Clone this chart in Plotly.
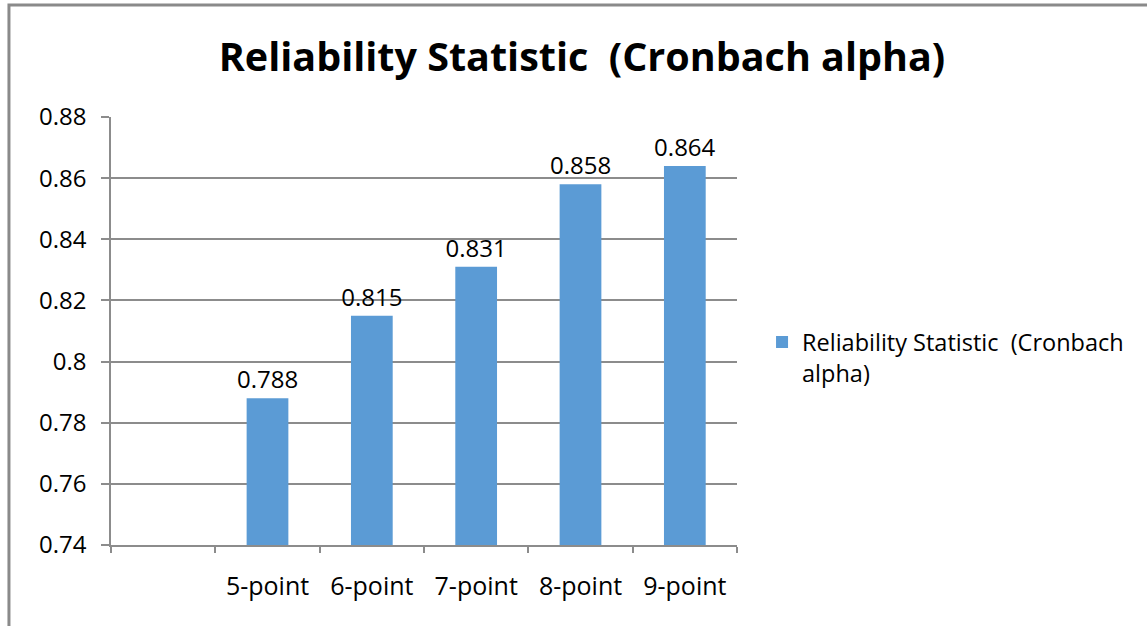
import plotly.graph_objects as go

categories = [" ", "5-point", "6-point", "7-point", "8-point", "9-point"]
values = [None, 0.788, 0.815, 0.831, 0.858, 0.864]
labels = ["", "0.788", "0.815", "0.831", "0.858", "0.864"]
series_name = "Reliability Statistic  (Cronbach<br>alpha)"
title_text = "Reliability Statistic  (Cronbach alpha)"
ytick_vals = [0.74, 0.76, 0.78, 0.80, 0.82, 0.84, 0.86, 0.88]
ytick_text = ["0.74", "0.76", "0.78", "0.8", "0.82", "0.84", "0.86", "0.88"]

FONT = "'Open Sans', Lato, sans-serif"
GRID = "#8c8c8c"

fig = go.Figure()
fig.add_trace(go.Bar(
    x=categories, y=values, name=series_name,
    marker=dict(color="#5B9BD5", line=dict(width=0)),
    text=labels, textposition="outside", cliponaxis=False,
    constraintext="none",
    textfont=dict(size=24, color="#000000", family=FONT),
    showlegend=True,
))

fig.update_layout(
    width=1147, height=626,
    margin=dict(l=111, r=410, t=117, b=81),
    paper_bgcolor="white", plot_bgcolor="white",
    font=dict(family=FONT, color="#000000"),
    title=dict(text="<b>" + title_text + "</b>", x=582 / 1147, xanchor="center",
               y=1 - 57 / 626, yanchor="middle",
               font=dict(size=39.5, family=FONT, color="#000000")),
    bargap=0.6,
    showlegend=True,
    legend=dict(x=1.040, y=0.525, xanchor="left", yanchor="top",
                valign="top", font=dict(size=23.5, family=FONT, color="#000000"),
                bgcolor="rgba(0,0,0,0)", itemwidth=30, tracegroupgap=0),
    shapes=[dict(type="rect", xref="paper", yref="paper",
                 x0=-0.163, x1=2.0, y0=-1.0, y1=1.2617,
                 line=dict(color="#8a8a8a", width=3), fillcolor="rgba(0,0,0,0)",
                 layer="below")],
)

fig.update_xaxes(
    type="category", tickson="boundaries", ticks="outside", ticklen=6,
    tickcolor=GRID, tickwidth=1.5,
    showline=True, linecolor=GRID, linewidth=1.5, showgrid=False,
    tickfont=dict(size=25, family=FONT, color="#000000"),
    ticklabelstandoff=18,
)
fig.update_yaxes(
    range=[0.74, 0.88], tickvals=ytick_vals, ticktext=ytick_text,
    ticks="outside", ticklen=8, tickcolor=GRID, tickwidth=1.5,
    showline=True, linecolor=GRID, linewidth=1.5,
    showgrid=True, gridcolor=GRID, gridwidth=1.5, zeroline=False,
    tickfont=dict(size=24, family=FONT, color="#000000"),
    ticklabelstandoff=10,
)

fig.write_html("out.html", config={"displayModeBar": False},
               post_script="document.body.style.margin='0';")
